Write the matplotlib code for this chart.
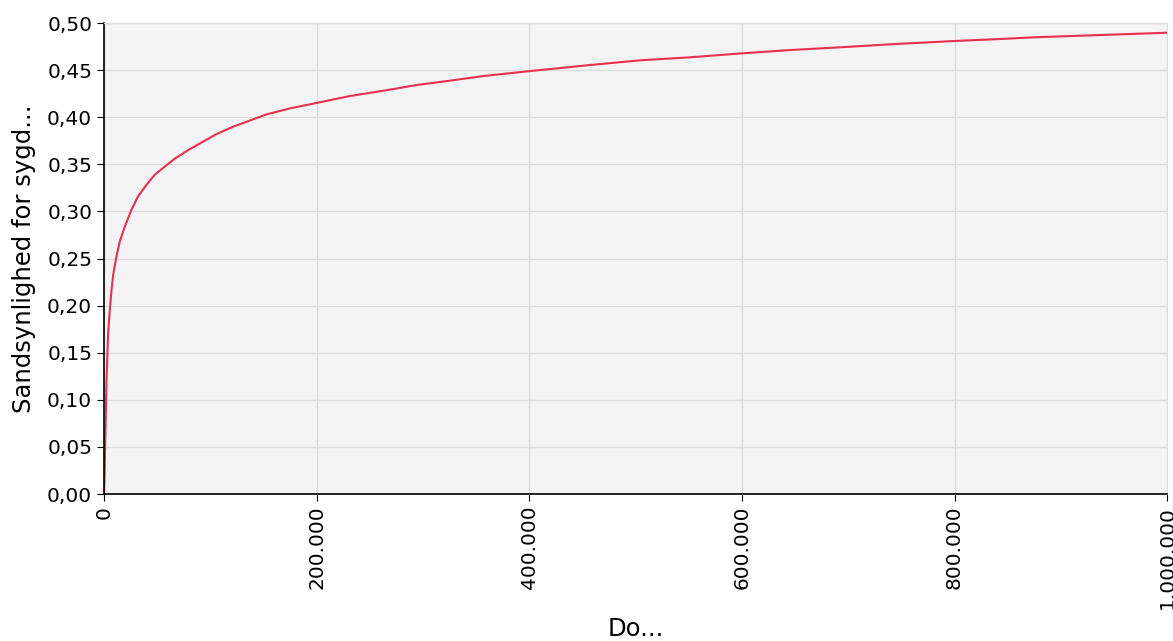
import matplotlib.pyplot as plt
from matplotlib.ticker import FuncFormatter

# values
dose = [0, 500, 1200, 2300, 3800, 5400, 6900, 8500, 11600, 14800, 19500,
        25700, 32000, 39800, 47700, 57100, 66500, 79000, 91500, 105600,
        121600, 153100, 175000, 201000, 231400, 262700, 294200, 325500,
        356800, 400800, 457200, 504200, 551300, 600000, 645300, 692400,
        739400, 800000, 842900, 874200, 1000000]
prob = [0, 0.02, 0.06, 0.12, 0.17, 0.195, 0.215, 0.232, 0.252, 0.268, 0.284,
        0.3015, 0.316, 0.328, 0.339, 0.3475, 0.356, 0.365, 0.373, 0.382,
        0.390, 0.4031, 0.4094, 0.4154, 0.4225, 0.4281, 0.4342, 0.4388,
        0.4437, 0.449, 0.4554, 0.4604, 0.4636, 0.4678, 0.4713, 0.4742,
        0.4774, 0.4809, 0.4830, 0.4848, 0.4897]

x_ticks = [0, 200000, 400000, 600000, 800000, 1000000]
y_ticks = [0, 0.05, 0.10, 0.15, 0.20, 0.25, 0.30, 0.35, 0.40, 0.45, 0.50]

fig = plt.figure(figsize=(11.73, 6.41), dpi=100)
ax = fig.add_axes([0.0887, 0.2293, 0.9063, 0.7348])
ax.set_facecolor('#f4f4f4')

ax.plot(dose, prob, color='#e8304f', lw=1.5)

ax.set_xlim(0, 1000000)
ax.set_ylim(0, 0.5)
ax.set_xticks(x_ticks)
ax.set_yticks(y_ticks)
ax.xaxis.set_major_formatter(FuncFormatter(lambda v, p: f'{int(v):,}'.replace(',', '.')))
ax.yaxis.set_major_formatter(FuncFormatter(lambda v, p: f'{v:.2f}'.replace('.', ',')))
ax.tick_params(axis='x', labelrotation=90, labelsize=14.5, length=5, color='black')
ax.tick_params(axis='y', labelsize=14.5, length=5, color='black')

ax.grid(True, color='#dcdcdc', lw=1)
ax.set_axisbelow(True)
for s in ['top', 'right']:
    ax.spines[s].set_color('#dcdcdc')
for s in ['left', 'bottom']:
    ax.spines[s].set_color('black')
    ax.spines[s].set_linewidth(1.2)

ax.set_ylabel('Sandsynlighed for sygd...', fontsize=17.5, labelpad=8)
ax.set_xlabel('Do...', fontsize=17.5)
ax.xaxis.set_label_coords(0.5, -0.262)

fig.savefig('out.png', dpi=100)
